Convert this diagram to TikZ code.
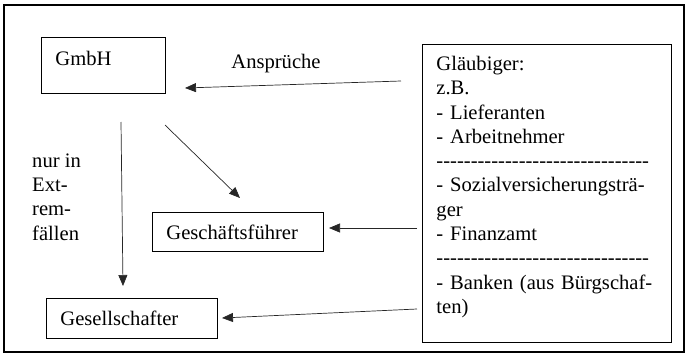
\documentclass[tikz,border=0pt]{standalone}
\usepackage{fontspec}
\setmainfont{Liberation Serif}[Ligatures=TeXOff]
\usetikzlibrary{arrows.meta,positioning}

\begin{document}
\begin{tikzpicture}[x=1pt,y=-1pt,font=\fontsize{20.6}{24.3}\selectfont,
  box/.style={draw=black, line width=0.9pt, inner xsep=14pt, inner ysep=0pt, align=left},
  arr/.style={-{Triangle[length=11pt,width=9pt]}, line width=0.7pt, draw=black!85}]
\useasboundingbox (0,0) rectangle (689,359);
\draw[line width=1.1pt] (4,5) rectangle (684,352);
\node[box, anchor=north west, text width=96pt, text height=14pt, text depth=14pt, inner ysep=14pt] (gmbh) at (41,37) {GmbH};
\node[box, anchor=north west, minimum height=39pt, text width=143pt] (gf) at (152,212) {Geschäftsführer};
\node[box, anchor=north west, minimum height=40pt, text width=143pt] (ges) at (46,298) {Gesellschafter};
\node[box, anchor=north west, text width=221pt, inner ysep=11.7pt] (glb) at (422,44)
  {Gläubiger:\\z.B.\\- Lieferanten\\- Arbeitnehmer\\
   -------------------------------\\- Sozialversicherungsträ-\\ger\\- Finanzamt\\
   -------------------------------\\- Banken (aus Bürgschaf-\\ten)\rule[-17.3pt]{0pt}{1pt}};
\node[anchor=base, inner sep=0pt] (anspr) at (276,68) {Ansprüche};
\node[anchor=base west, align=left, inner sep=0pt] (extrem) at (32,240) {nur in\\Ext-\\rem-\\fällen};
\coordinate (glbA) at (401,81);
\coordinate (gmbhA) at (185,88);
\coordinate (gmbhB) at (121,122);
\coordinate (gesB) at (123,286);
\coordinate (gmbhC) at (165,125);
\coordinate (gfC) at (240,198);
\coordinate (glbD) at (417,228);
\coordinate (gfD) at (329,228);
\coordinate (glbE) at (417,309);
\coordinate (gesE) at (222,318);
\draw[arr] (glbA) -- (gmbhA);
\draw[arr] (gmbhB) -- (gesB);
\draw[arr] (gmbhC) -- (gfC);
\draw[arr] (glbD) -- (gfD);
\draw[arr] (glbE) -- (gesE);
\end{tikzpicture}
\end{document}
